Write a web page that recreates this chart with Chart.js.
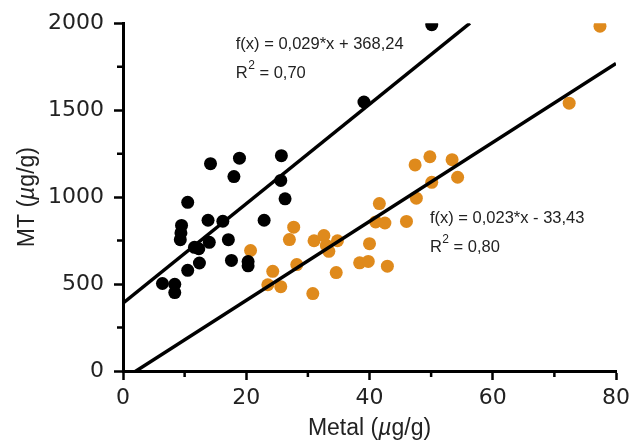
<!DOCTYPE html>
<html>
<head>
<meta charset="utf-8">
<script src="https://cdn.jsdelivr.net/npm/chart.js@4.4.1/dist/chart.umd.min.js"></script>
<style>
  html, body { margin: 0; padding: 0; background: #fff; }
  #wrap { width: 637px; height: 446px; }
</style>
</head>
<body>
<div id="wrap"><canvas id="mtChart" width="637" height="446"></canvas></div>
<script>
// valores (Metal en µg/g, MT en µg/g)
const metalBlack = [6.4, 8.4, 8.4, 10.5, 11.6, 12.3, 12.4, 9.3, 9.4, 9.5, 10.5, 13.8, 14.0, 14.2, 16.2, 17.1, 17.6, 18.0, 18.9, 20.3, 20.3, 22.9, 25.7, 25.6, 26.3, 39.1, 50.1];
const mtBlack = [503, 499, 451, 579, 711, 703, 621, 755, 794, 837, 970, 867, 740, 1192, 861, 755, 636, 1118, 1224, 629, 605, 867, 1238, 1096, 990, 1547, 1991];

const metalOrange = [20.7, 23.5, 24.3, 25.6, 27.7, 27.0, 28.2, 30.8, 31.0, 32.6, 33.0, 33.4, 34.8, 34.6, 38.4, 39.8, 40.0, 42.9, 41.6, 41.0, 42.5, 46.0, 47.6, 47.4, 49.8, 53.4, 50.1, 54.3, 72.4, 77.4];
const mtOrange = [693, 496, 573, 485, 827, 756, 612, 445, 749, 779, 722, 688, 749, 566, 622, 630, 732, 603, 963, 857, 851, 860, 994, 1185, 1232, 1215, 1085, 1114, 1540, 1983];

// rectas de ajuste (extremos)
const fitBlackX = [0, 56.3];
const fitBlackY = [390, 2000];
const fitOrangeX = [0, 80];
const fitOrangeY = [-48, 1768];

const xTicks = [0, 20, 40, 60, 80];
const yTicks = [0, 500, 1000, 1500, 2000];
const xMinor = [10, 30, 50, 70];
const yMinor = [250, 750, 1250, 1750];

const eqBlack = ["f(x) = 0,029*x + 368,24", "0,70"];
const eqOrange = ["f(x) = 0,023*x - 33,43", "0,80"];

const orange = "#DF8A1C";
const toPts = (xs, ys) => xs.map((v, i) => ({ x: v, y: ys[i] }));

// dibuja titulos con µ en cursiva
function drawMixed(ctx, parts, x, y, size) {
    let total = 0;
    parts.forEach(p => {
        ctx.font = (p[1] ? "italic " : "") + size + "px 'Liberation Sans', Arial, sans-serif";
        total += ctx.measureText(p[0]).width;
    });
    let cx = x - total / 2;
    parts.forEach(p => {
        ctx.font = (p[1] ? "italic " : "") + size + "px 'Liberation Sans', Arial, sans-serif";
        ctx.fillText(p[0], cx, y);
        cx += ctx.measureText(p[0]).width;
    });
}

function drawEq(ctx, lines, x, y) {
    ctx.font = "16.5px 'Liberation Sans', Arial, sans-serif";
    ctx.textAlign = "left";
    ctx.textBaseline = "middle";
    ctx.fillText(lines[0], x, y);
    const y2 = y + 29;
    ctx.fillText("R", x, y2);
    let w = ctx.measureText("R").width;
    ctx.font = "12px 'Liberation Sans', Arial, sans-serif";
    ctx.fillText("2", x + w + 0.5, y2 - 7);
    w += ctx.measureText("2").width + 0.5;
    ctx.font = "16.5px 'Liberation Sans', Arial, sans-serif";
    ctx.fillText(" = " + lines[1], x + w, y2);
}

const extras = {
    id: "extras",
    afterDraw(chart) {
        const ctx = chart.ctx;
        const xs = chart.scales.x, ys = chart.scales.y;
        ctx.save();
        // ticks menores
        ctx.strokeStyle = "#000";
        ctx.lineWidth = 2.5;
        ctx.beginPath();
        xMinor.forEach(v => {
            const px = xs.getPixelForValue(v);
            ctx.moveTo(px, ys.bottom);
            ctx.lineTo(px, ys.bottom + 6);
        });
        yMinor.forEach(v => {
            const py = ys.getPixelForValue(v);
            ctx.moveTo(xs.left, py);
            ctx.lineTo(xs.left - 6, py);
        });
        ctx.stroke();

        ctx.fillStyle = "#222";
        ctx.textAlign = "left";
        ctx.textBaseline = "middle";
        drawMixed(ctx, [["Metal (", false], ["\u00b5", true], ["g/g)", false]], (xs.left + xs.right) / 2, 429, 23);
        ctx.save();
        ctx.translate(28, (ys.top + ys.bottom) / 2);
        ctx.rotate(-Math.PI / 2);
        drawMixed(ctx, [["MT (", false], ["\u00b5", true], ["g/g)", false]], 0, 0, 23);
        ctx.restore();

        drawEq(ctx, eqBlack, xs.getPixelForValue(18.3), ys.getPixelForValue(1880));
        drawEq(ctx, eqOrange, xs.getPixelForValue(49.8), ys.getPixelForValue(880));
        ctx.restore();
    }
};

const tickFont = { family: "'DejaVu Sans', Verdana, sans-serif", size: 22 };

new Chart(document.getElementById("mtChart"), {
    type: "scatter",
    data: {
        datasets: [
            {
                label: "fitBlack",
                type: "line",
                data: toPts(fitBlackX, fitBlackY),
                borderColor: "#000",
                borderWidth: 3.5,
                pointRadius: 0,
                fill: false
            },
            {
                label: "fitOrange",
                type: "line",
                data: toPts(fitOrangeX, fitOrangeY),
                borderColor: "#000",
                borderWidth: 3.5,
                pointRadius: 0,
                fill: false
            },
            {
                label: "black",
                data: toPts(metalBlack, mtBlack),
                backgroundColor: "#000",
                borderWidth: 0,
                pointRadius: 6.5
            },
            {
                label: "orange",
                data: toPts(metalOrange, mtOrange),
                backgroundColor: orange,
                borderWidth: 0,
                pointRadius: 6.5
            }
        ]
    },
    options: {
        responsive: false,
        animation: false,
        layout: { padding: { top: 22, right: 21, left: 0, bottom: 0 } },
        plugins: { legend: { display: false }, tooltip: { enabled: false } },
        scales: {
            x: {
                type: "linear",
                min: 0, max: 80,
                afterBuildTicks: s => { s.ticks = xTicks.map(v => ({ value: v })); },
                afterFit: s => { s.height = 75; },
                border: { color: "#000", width: 3 },
                grid: { drawOnChartArea: false, color: "#000", tickLength: 9, tickWidth: 2.5 },
                ticks: { color: "#222", font: tickFont, padding: 5, maxRotation: 0, callback: v => String(v) }
            },
            y: {
                type: "linear",
                min: 0, max: 2000,
                afterBuildTicks: s => { s.ticks = yTicks.map(v => ({ value: v })); },
                afterFit: s => { s.width = 123; },
                border: { color: "#000", width: 3 },
                grid: { drawOnChartArea: false, color: "#000", tickLength: 9, tickWidth: 2.5 },
                ticks: { color: "#222", font: tickFont, padding: 10, callback: v => String(v) }
            }
        }
    },
    plugins: [extras]
});
</script>
</body>
</html>
